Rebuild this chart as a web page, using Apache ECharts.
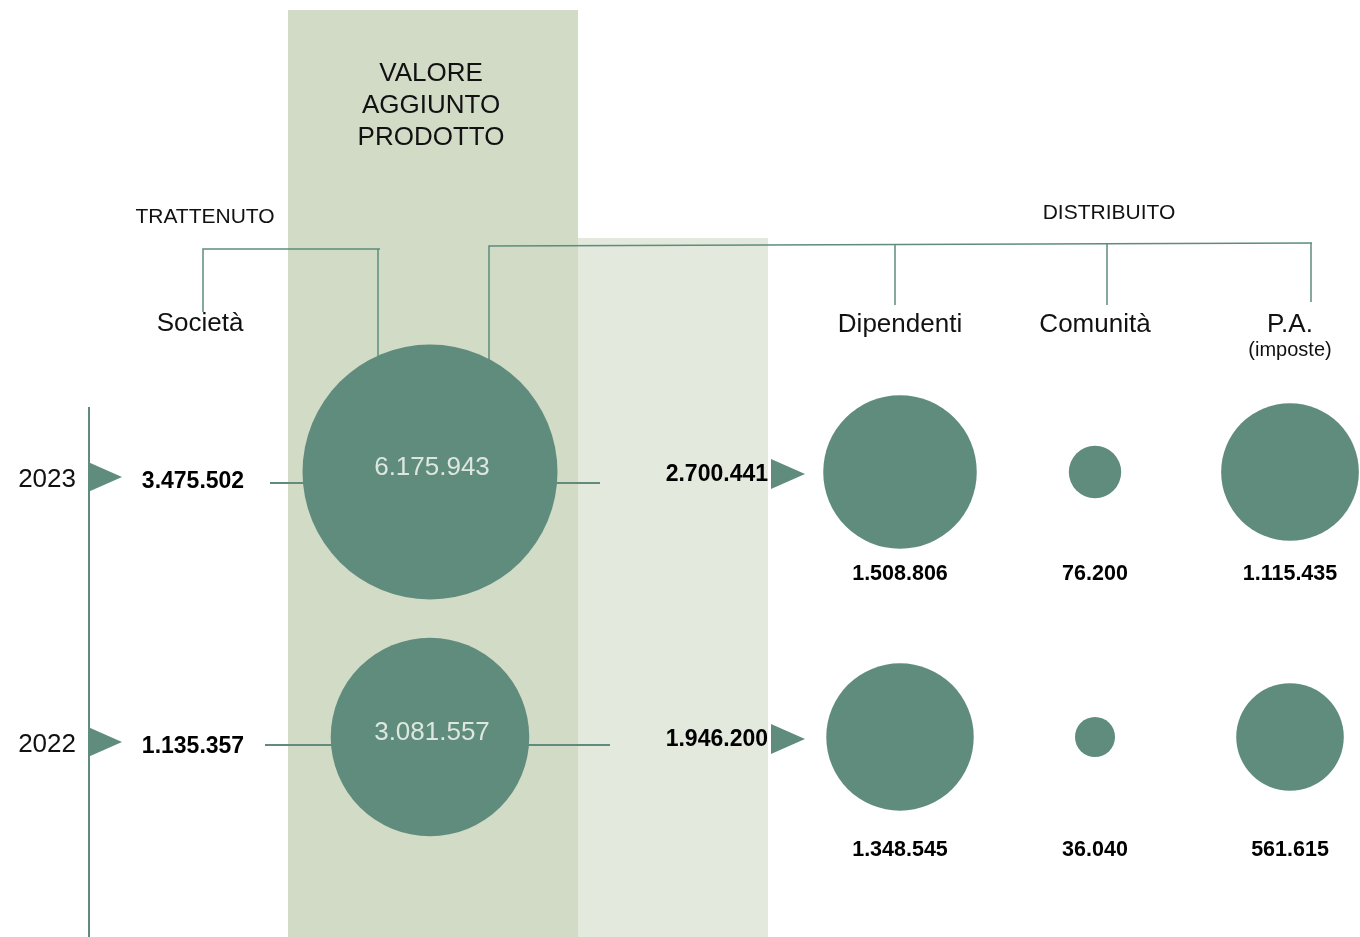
<!DOCTYPE html>
<html>
<head>
<meta charset="utf-8">
<title>Valore aggiunto</title>
<script src="https://cdn.jsdelivr.net/npm/echarts@6/dist/echarts.min.js"></script>
<style>
  html, body { margin: 0; padding: 0; background: #fff; }
  #chart { width: 1360px; height: 937px; }
</style>
</head>
<body>
<div id="chart"></div>
<script>
// dati
const years = ['2023', '2022'];
const trattenuto = [3475502, 1135357];      // Società
const valoreAggiunto = [6175943, 3081557];
const distribuito = [2700441, 1946200];
const dipendenti = [1508806, 1348545];
const comunita = [76200, 36040];
const pa = [1115435, 561615];
const destinatari = ['Dipendenti', 'Comunità', 'P.A.'];

const GREEN = '#5f8c7d';
const FONT = 'Liberation Sans, Arial, sans-serif';

// formato italiano 1.234.567
function fmt(v) {
  return String(v).replace(/\B(?=(\d{3})+(?!\d))/g, '.');
}
const maxValue = Math.max(...valoreAggiunto);
// diametro della bolla
function sizeOf(v) {
  return 255 * Math.pow(v / maxValue, 0.36);
}

const chart = echarts.init(document.getElementById('chart'));

const distrData = [];
[dipendenti, comunita, pa].forEach((arr, c) => {
  arr.forEach((v, i) => {
    distrData.push({
      value: [destinatari[c], years[i], v],
      label: { offset: [0, i === 0 ? 102 : 113] }
    });
  });
});

const hidden = { show: false };
const line = (pts, w) => ({
  type: 'polyline', z: 1, silent: true,
  shape: { points: pts },
  style: { stroke: GREEN, lineWidth: w || 1.5, fill: null }
});
const text = (t, x, y, size) => ({
  type: 'text', z: 1, silent: true, x: x, y: y,
  style: { text: t, align: 'center', verticalAlign: 'middle', font: size + 'px ' + FONT, fill: '#111', lineHeight: 32 }
});
const boldLabel = {
  fontSize: 23, fontWeight: 'bold', color: '#000', fontFamily: FONT,
  textBorderWidth: 0, textBorderColor: 'transparent'
};

const option = {
  animation: false,
  textStyle: { fontFamily: FONT },
  grid: [
    { left: 85, width: 690, top: 339.5, bottom: 67.5 },
    { left: 900, width: 390, top: 339.5, bottom: 67.5 }
  ],
  xAxis: [
    {
      gridIndex: 0, type: 'category', position: 'top',
      data: ['Società', 'Valore aggiunto', 'Distribuito'],
      axisLine: hidden, axisTick: hidden, splitLine: hidden,
      axisLabel: {
        margin: 29, verticalAlign: 'top', fontSize: 26, color: '#111',
        fontFamily: FONT,
        formatter: (v) => (v === 'Società' ? v : '')
      }
    },
    {
      gridIndex: 1, type: 'category', position: 'top', boundaryGap: false,
      data: destinatari,
      axisLine: hidden, axisTick: hidden, splitLine: hidden,
      axisLabel: {
        margin: 29, verticalAlign: 'top', fontSize: 26, color: '#111',
        fontFamily: FONT, lineHeight: 28,
        formatter: (v) => (v === 'P.A.' ? '{a|P.A.}\n{b|(imposte)}' : v),
        rich: {
          a: { fontSize: 26, color: '#111', lineHeight: 28, fontFamily: FONT },
          b: { fontSize: 20, color: '#111', lineHeight: 24, fontFamily: FONT }
        }
      }
    }
  ],
  yAxis: [
    {
      gridIndex: 0, type: 'category', data: years, inverse: true,
      axisLine: hidden, axisTick: hidden, splitLine: hidden,
      axisLabel: { margin: 9, fontSize: 26, color: '#111', fontFamily: FONT, verticalAlign: 'top', lineHeight: 16 }
    },
    {
      gridIndex: 1, type: 'category', data: years, inverse: true,
      axisLine: hidden, axisTick: hidden, splitLine: hidden, axisLabel: hidden
    }
  ],
  graphic: [
    { type: 'rect', z: 0, silent: true, shape: { x: 288, y: 10, width: 290, height: 927 }, style: { fill: '#d1dbc6' } },
    { type: 'rect', z: 0, silent: true, shape: { x: 578, y: 238, width: 190, height: 699 }, style: { fill: '#e3e9dd' } },
    text('VALORE\nAGGIUNTO\nPRODOTTO', 431, 106, 26),
    text('TRATTENUTO', 205, 217, 21),
    text('DISTRIBUITO', 1109, 213, 21),
    line([[203, 312], [203, 249], [380, 249]]),
    line([[378, 249], [378, 360]]),
    line([[489, 363], [489, 246], [1312, 243]]),
    line([[895, 245], [895, 305]]),
    line([[1107, 244], [1107, 305]]),
    line([[1311, 243], [1311, 302]]),
    line([[89, 407], [89, 937]], 2),
    line([[270, 483], [600, 483]], 2),
    line([[265, 745], [610, 745]], 2)
  ],
  series: [
    {
      name: 'anni', type: 'scatter', xAxisIndex: 0, yAxisIndex: 0, silent: true,
      symbol: 'triangle', symbolSize: [30, 34], symbolRotate: -90, symbolOffset: [-95, 5],
      itemStyle: { color: GREEN, opacity: 1 },
      data: trattenuto.map((v, i) => ['Società', years[i], v])
    },
    {
      name: 'Trattenuto', type: 'scatter', xAxisIndex: 0, yAxisIndex: 0, silent: true,
      symbolSize: 0, itemStyle: { color: GREEN, opacity: 1 },
      label: Object.assign({
        show: true, position: 'inside', offset: [-7, 10],
        formatter: (p) => fmt(p.value[2])
      }, boldLabel),
      data: trattenuto.map((v, i) => ['Società', years[i], v])
    },
    {
      name: 'Valore aggiunto', type: 'scatter', xAxisIndex: 0, yAxisIndex: 0, silent: true,
      symbolSize: (val) => sizeOf(val[2]),
      itemStyle: { color: GREEN, opacity: 1 },
      label: {
        show: true, position: 'inside', offset: [2, -4],
        formatter: (p) => fmt(p.value[2]),
        fontSize: 26, color: '#dde7e0', fontFamily: FONT
      },
      data: valoreAggiunto.map((v, i) => ['Valore aggiunto', years[i], v])
    },
    {
      name: 'frecce', type: 'scatter', xAxisIndex: 0, yAxisIndex: 0, silent: true,
      symbol: 'triangle', symbolSize: [30, 34], symbolRotate: -90, symbolOffset: [128, 2],
      itemStyle: { color: GREEN, opacity: 1 },
      data: distribuito.map((v, i) => ['Distribuito', years[i], v])
    },
    {
      name: 'Distribuito', type: 'scatter', xAxisIndex: 0, yAxisIndex: 0, silent: true,
      symbolSize: 0, itemStyle: { color: GREEN, opacity: 1 },
      label: Object.assign({
        show: true, position: 'inside', align: 'right', offset: [108, 3],
        formatter: (p) => fmt(p.value[2])
      }, boldLabel),
      data: distribuito.map((v, i) => ['Distribuito', years[i], v])
    },
    {
      name: 'Destinatari', type: 'scatter', xAxisIndex: 1, yAxisIndex: 1, silent: true,
      symbolSize: (val) => sizeOf(val[2]),
      itemStyle: { color: GREEN, opacity: 1 },
      label: Object.assign({
        show: true, position: 'inside',
        formatter: (p) => fmt(p.value[2])
      }, boldLabel, { fontSize: 21.5 }),
      data: distrData
    }
  ]
};

chart.setOption(option);
</script>
</body>
</html>
